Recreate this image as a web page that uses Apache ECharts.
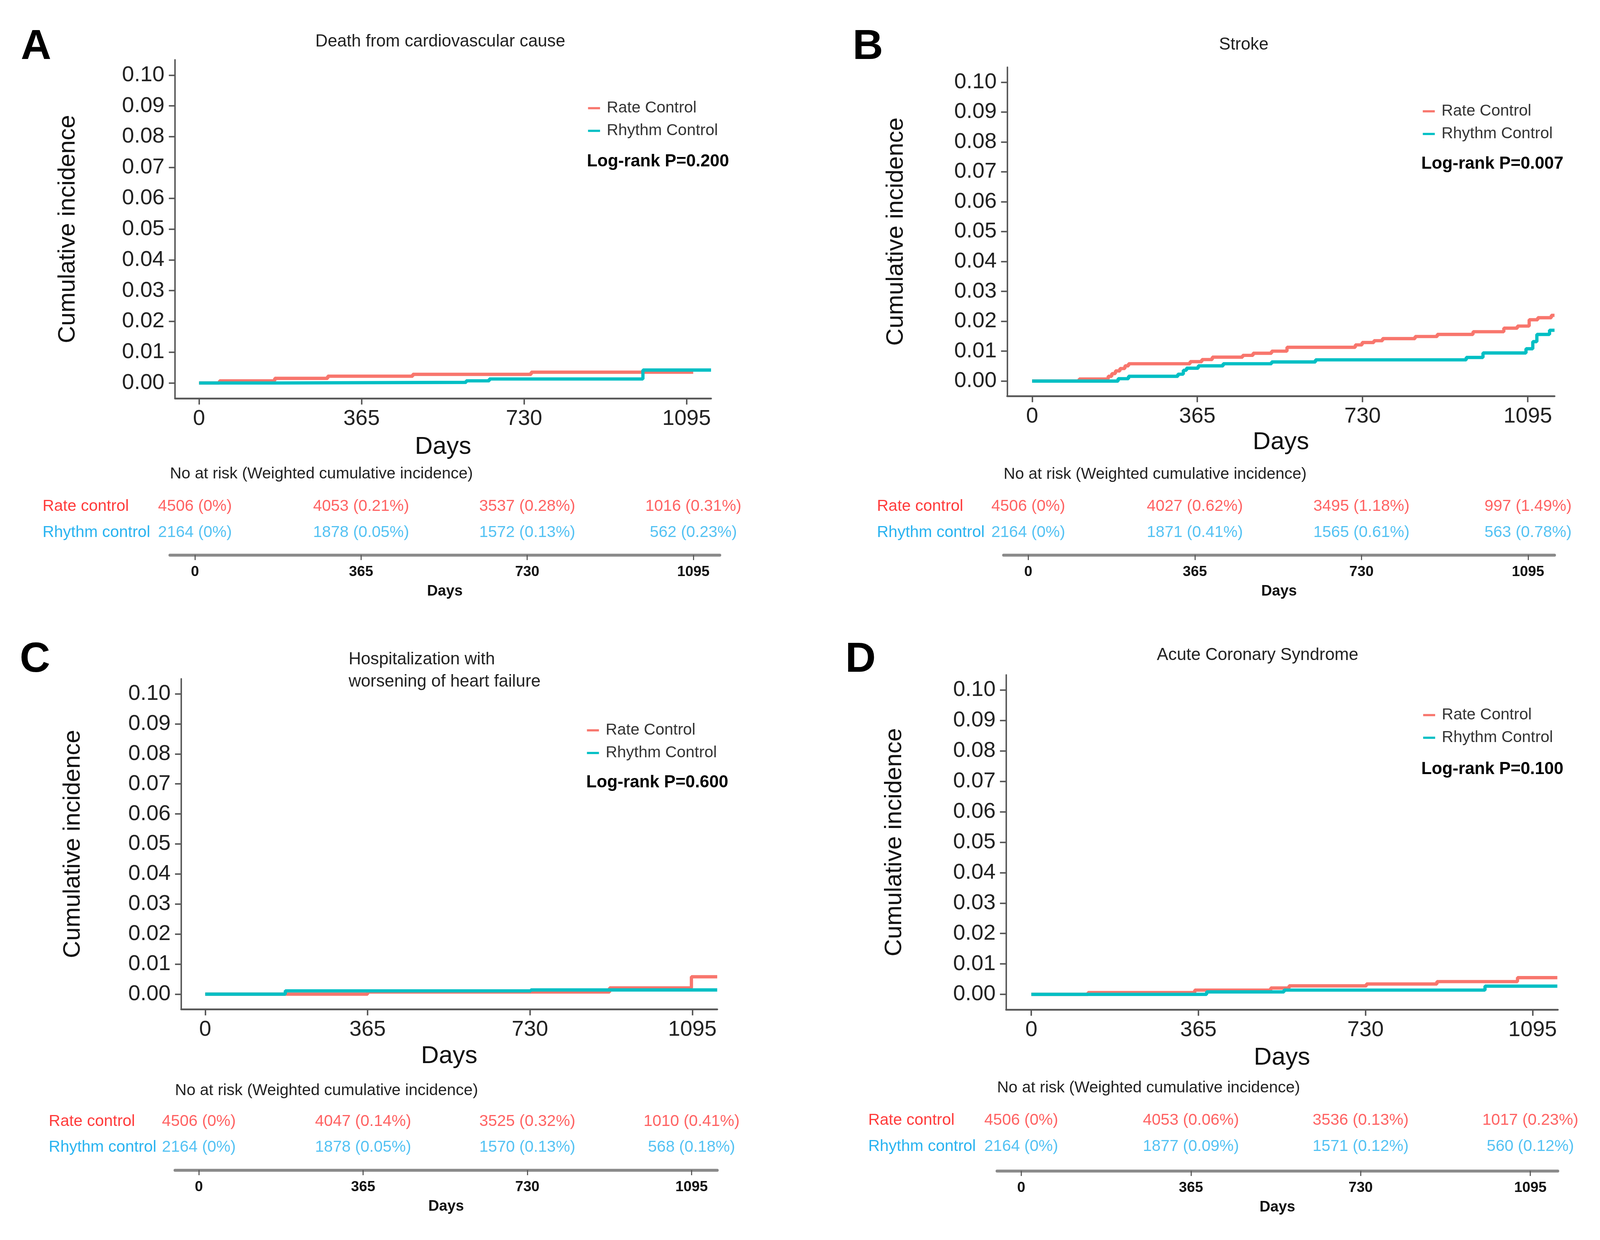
<!DOCTYPE html>
<html><head><meta charset="utf-8">
<script src="https://cdn.jsdelivr.net/npm/echarts@6/dist/echarts.min.js"></script>
<style>html,body{margin:0;padding:0;background:#fff;overflow:hidden}#c{width:100vw;height:100vh}</style>
</head><body><div id="c"></div>
<script>
// ---------------- data ----------------
const dayTicks = [0, 365, 730, 1095];
const incTicks = [0, 0.01, 0.02, 0.03, 0.04, 0.05, 0.06, 0.07, 0.08, 0.09, 0.10];
const seriesNames = ['Rate Control', 'Rhythm Control'];
const rowNames = ['Rate control', 'Rhythm control'];
const panelLetters = ['A', 'B', 'C', 'D'];
const panelTitles = ['Death from cardiovascular cause', 'Stroke', 'Hospitalization with\nworsening of heart failure', 'Acute Coronary Syndrome'];
const logRankP = ['0.200', '0.007', '0.600', '0.100'];
const tableHeader = 'No at risk (Weighted cumulative incidence)';

// step curves: [day, cumulative incidence]
const cvdRate = [[0,0],[46,0.0007],[170,0.0015],[289,0.0022],[480,0.0028],[746,0.0035],[1110,0.0035]];
const cvdRhythm = [[0,0],[170,0.0002],[600,0.0007],[652,0.0013],[997,0.0042],[1150,0.0042]];
const strokeRate = [[0,0],[104,0.0007],[168,0.0016],[176,0.0025],[184,0.0034],[194,0.0042],[205,0.0051],[213,0.0058],[349,0.0065],[375,0.0072],[398,0.0080],[465,0.0086],[488,0.0093],[529,0.0100],[563,0.0113],[714,0.0121],[729,0.0129],[755,0.0135],[774,0.0142],[846,0.0149],[895,0.0156],[974,0.0165],[1042,0.0177],[1072,0.0184],[1098,0.0205],[1117,0.0212],[1147,0.0220],[1154,0.0220]];
const strokeRhythm = [[0,0],[190,0.0008],[213,0.0016],[322,0.0023],[334,0.0036],[341,0.0043],[367,0.0051],[422,0.0058],[529,0.0064],[626,0.0071],[959,0.0079],[996,0.0094],[1091,0.0108],[1106,0.0132],[1115,0.0156],[1143,0.0170],[1154,0.0170]];
const hfRate = [[0,0],[365,0.0007],[909,0.0021],[1093,0.0058],[1151,0.0058]];
const hfRhythm = [[0,0],[180,0.0011],[732,0.0014],[1151,0.0014]];
const acsRate = [[0,0],[124,0.0006],[357,0.0014],[523,0.0021],[563,0.0028],[732,0.0034],[886,0.0042],[1062,0.0055],[1149,0.0055]];
const acsRhythm = [[0,0],[383,0.0008],[552,0.0014],[991,0.0027],[1149,0.0027]];

// numbers at risk and weighted cumulative incidence
const cvdRateN = [4506, 4053, 3537, 1016];
const cvdRatePct = ['0%', '0.21%', '0.28%', '0.31%'];
const cvdRhythmN = [2164, 1878, 1572, 562];
const cvdRhythmPct = ['0%', '0.05%', '0.13%', '0.23%'];
const strokeRateN = [4506, 4027, 3495, 997];
const strokeRatePct = ['0%', '0.62%', '1.18%', '1.49%'];
const strokeRhythmN = [2164, 1871, 1565, 563];
const strokeRhythmPct = ['0%', '0.41%', '0.61%', '0.78%'];
const hfRateN = [4506, 4047, 3525, 1010];
const hfRatePct = ['0%', '0.14%', '0.32%', '0.41%'];
const hfRhythmN = [2164, 1878, 1570, 568];
const hfRhythmPct = ['0%', '0.05%', '0.13%', '0.18%'];
const acsRateN = [4506, 4053, 3536, 1017];
const acsRatePct = ['0%', '0.06%', '0.13%', '0.23%'];
const acsRhythmN = [2164, 1877, 1571, 560];
const acsRhythmPct = ['0%', '0.09%', '0.12%', '0.12%'];

// ---------------- layout / style ----------------
const FONT = '"Liberation Sans", Arial, sans-serif';
const RED = '#F8766D', TEAL = '#00BFC4', TRED = '#FF3B3B', TBLUE = '#29B3F0';
const AX = '#555';

const layout = [
  { plot: {left: 481, top: 153, width: 1473, height: 867}, xr: [-54, 1150], yGap: 261, xGap: 93,
    letter: [99, 121], title: [1210, 107, 'center'], legend: [1616, 252], logrank: [1613, 414],
    table: {left: 467, width: 1511, xr: [-55, 1153], row1: 1297, gap: 67, labelX: 117, axisY: 1421, header: [467, 1214]} },
  { plot: {left: 2768, top: 172, width: 1504, height: 842}, xr: [-55, 1154], yGap: 273, xGap: 87,
    letter: [2385, 121], title: [3418, 115, 'center'], legend: [3910, 260], logrank: [3906, 420],
    table: {left: 2758, width: 1514, xr: [-54, 1153], row1: 1297, gap: 67, labelX: 2410, axisY: 1421, header: [2758, 1215]} },
  { plot: {left: 498, top: 1738, width: 1473, height: 846}, xr: [-54, 1151], yGap: 264, xGap: 89,
    letter: [96, 1690], title: [958, 1660, 'left'], legend: [1613, 1845], logrank: [1611, 2004],
    table: {left: 481, width: 1490, xr: [-53, 1152], row1: 2872, gap: 66, labelX: 134, axisY: 2996, header: [481, 2793]} },
  { plot: {left: 2765, top: 1728, width: 1516, height: 857}, xr: [-55, 1150], yGap: 274, xGap: 92,
    letter: [2365, 1690], title: [3456, 1678, 'center'], legend: [3911, 1806], logrank: [3906, 1970],
    table: {left: 2740, width: 1541, xr: [-52, 1154], row1: 2869, gap: 67, labelX: 2386, axisY: 2998, header: [2740, 2786]} }
];

const curves = [[cvdRate, cvdRhythm], [strokeRate, strokeRhythm], [hfRate, hfRhythm], [acsRate, acsRhythm]];
const risk = [
  [[cvdRateN, cvdRatePct], [cvdRhythmN, cvdRhythmPct]],
  [[strokeRateN, strokeRatePct], [strokeRhythmN, strokeRhythmPct]],
  [[hfRateN, hfRatePct], [hfRhythmN, hfRhythmPct]],
  [[acsRateN, acsRatePct], [acsRhythmN, acsRhythmPct]]
];

const chart = echarts.init(document.getElementById('c'), null, {renderer: 'canvas'});
const CW = chart.getWidth(), CH = chart.getHeight();
const sx = CW / 4397, sy = CH / 3175, sf = Math.min(sx, sy);
const X = v => v * sx, Y = v => v * sy, F = v => v * sf;

const grids = [], xAxes = [], yAxes = [], series = [], legends = [], graphics = [];
const gridOf = (l, t, w, h) => ({left: X(l), top: Y(t), width: X(w), height: Y(h), containLabel: false, outerBoundsMode: 'none'});

layout.forEach((L, i) => {
  // ---- main plot ----
  const g0 = grids.length;
  grids.push(gridOf(L.plot.left, L.plot.top, L.plot.width, L.plot.height));
  xAxes.push({
    gridIndex: g0, type: 'value', min: L.xr[0], max: L.xr[1],
    axisLine: {show: true, onZero: false, lineStyle: {color: AX, width: F(5)}},
    axisTick: {show: true, customValues: dayTicks, length: F(17), lineStyle: {color: AX, width: F(4)}},
    axisLabel: {customValues: dayTicks, formatter: v => String(v), fontSize: F(60), color: '#222', margin: Y(25), fontFamily: FONT},
    splitLine: {show: false},
    name: 'Days', nameLocation: 'middle', nameGap: Y(L.xGap),
    nameTextStyle: {fontSize: F(68), color: '#111', fontFamily: FONT}
  });
  yAxes.push({
    gridIndex: g0, type: 'value', min: -0.005, max: 0.105,
    axisLine: {show: true, onZero: false, lineStyle: {color: AX, width: F(4)}},
    axisTick: {show: true, customValues: incTicks, length: F(17), lineStyle: {color: AX, width: F(4)}},
    axisLabel: {customValues: incTicks, formatter: v => v.toFixed(2), fontSize: F(60), color: '#222', margin: X(29), fontFamily: FONT},
    splitLine: {show: false},
    name: 'Cumulative incidence', nameLocation: 'middle', nameGap: X(L.yGap),
    nameTextStyle: {fontSize: F(66), color: '#111', fontFamily: FONT}
  });
  series.push({type: 'line', name: seriesNames[0], xAxisIndex: g0, yAxisIndex: g0, data: curves[i][0],
    step: 'end', showSymbol: false, symbol: 'none', lineStyle: {color: RED, width: F(9)}, itemStyle: {color: RED}, z: 2, silent: true});
  series.push({type: 'line', name: seriesNames[1], xAxisIndex: g0, yAxisIndex: g0, data: curves[i][1],
    step: 'end', showSymbol: false, symbol: 'none', lineStyle: {color: TEAL, width: F(9)}, itemStyle: {color: TEAL}, z: 3, silent: true});

  legends.push({
    left: X(L.legend[0]), top: Y(L.legend[1]), orient: 'vertical', padding: 0, itemGap: Y(8),
    itemWidth: F(33), itemHeight: F(6), icon: 'rect', data: seriesNames, selectedMode: false,
    textStyle: {fontSize: F(44), color: '#333', fontFamily: FONT, lineHeight: Y(50), padding: [0, 0, 0, F(13)]}
  });

  // ---- risk table rows ----
  const T = L.table;
  const g1 = grids.length;
  grids.push(gridOf(T.left, T.row1 - T.gap / 2, T.width, T.gap * 2));
  xAxes.push({gridIndex: g1, type: 'value', min: T.xr[0], max: T.xr[1], show: false});
  yAxes.push({
    gridIndex: g1, type: 'category', data: rowNames, inverse: true,
    axisLine: {show: false}, axisTick: {show: false}, splitLine: {show: false},
    axisLabel: {align: 'left', margin: X(T.left - T.labelX), fontSize: F(44), fontFamily: FONT,
      color: v => (v === rowNames[0] ? TRED : TBLUE)}
  });
  [0, 1].forEach(r => {
    const [nArr, pArr] = risk[i][r];
    series.push({
      type: 'scatter', xAxisIndex: g1, yAxisIndex: g1, symbolSize: 1, silent: true,
      itemStyle: {color: 'rgba(0,0,0,0)'},
      data: dayTicks.map(d => [d, rowNames[r]]),
      label: {show: true, position: 'inside', fontSize: F(44), fontFamily: FONT, color: r === 0 ? TRED : TBLUE,
        formatter: p => nArr[p.dataIndex] + ' (' + pArr[p.dataIndex] + ')'}
    });
  });

  // ---- risk table axis ----
  const g2 = grids.length;
  grids.push(gridOf(T.left, T.axisY - 2, T.width, 2));
  xAxes.push({
    gridIndex: g2, type: 'value', min: T.xr[0], max: T.xr[1],
    axisLine: {show: true, onZero: false, lineStyle: {color: '#8a8a8a', width: F(8)}},
    axisTick: {show: true, customValues: dayTicks, length: F(14), lineStyle: {color: '#555', width: F(3)}},
    axisLabel: {customValues: dayTicks, formatter: v => String(v), fontSize: F(40), fontWeight: 'bold', color: '#111', margin: Y(25), fontFamily: FONT},
    splitLine: {show: false},
    name: 'Days', nameLocation: 'middle', nameGap: Y(74),
    nameTextStyle: {fontSize: F(41), fontWeight: 'bold', color: '#111', fontFamily: FONT}
  });
  yAxes.push({gridIndex: g2, type: 'value', show: false, min: 0, max: 1});

  // ---- texts ----
  graphics.push({type: 'text', x: X(L.letter[0]), y: Y(L.letter[1]), silent: true,
    style: {text: panelLetters[i], fontSize: F(116), fontWeight: 'bold', fontFamily: FONT, fill: '#000',
      align: 'center', verticalAlign: 'middle', textAlign: 'center', textVerticalAlign: 'middle'}});
  graphics.push({type: 'text', x: X(L.title[0]), y: Y(L.title[1]), silent: true,
    style: {text: panelTitles[i], fontSize: F(47), fontFamily: FONT, fill: '#222', lineHeight: Y(57),
      align: L.title[2], textAlign: L.title[2],
      verticalAlign: L.title[2] === 'left' ? 'top' : 'middle', textVerticalAlign: L.title[2] === 'left' ? 'top' : 'middle'}});
  graphics.push({type: 'text', x: X(L.logrank[0]), y: Y(L.logrank[1]), silent: true,
    style: {text: 'Log-rank P=' + logRankP[i], fontSize: F(47), fontWeight: 'bold', fontFamily: FONT, fill: '#000',
      align: 'left', verticalAlign: 'middle', textAlign: 'left', textVerticalAlign: 'middle'}});
  graphics.push({type: 'text', x: X(T.header[0]), y: Y(T.header[1]), silent: true,
    style: {text: tableHeader, fontSize: F(44), fontFamily: FONT, fill: '#222',
      align: 'left', verticalAlign: 'middle', textAlign: 'left', textVerticalAlign: 'middle'}});
});

chart.setOption({
  backgroundColor: '#ffffff',
  animation: false,
  grid: grids,
  xAxis: xAxes,
  yAxis: yAxes,
  legend: legends,
  series: series,
  graphic: graphics
});
</script>
</body></html>
